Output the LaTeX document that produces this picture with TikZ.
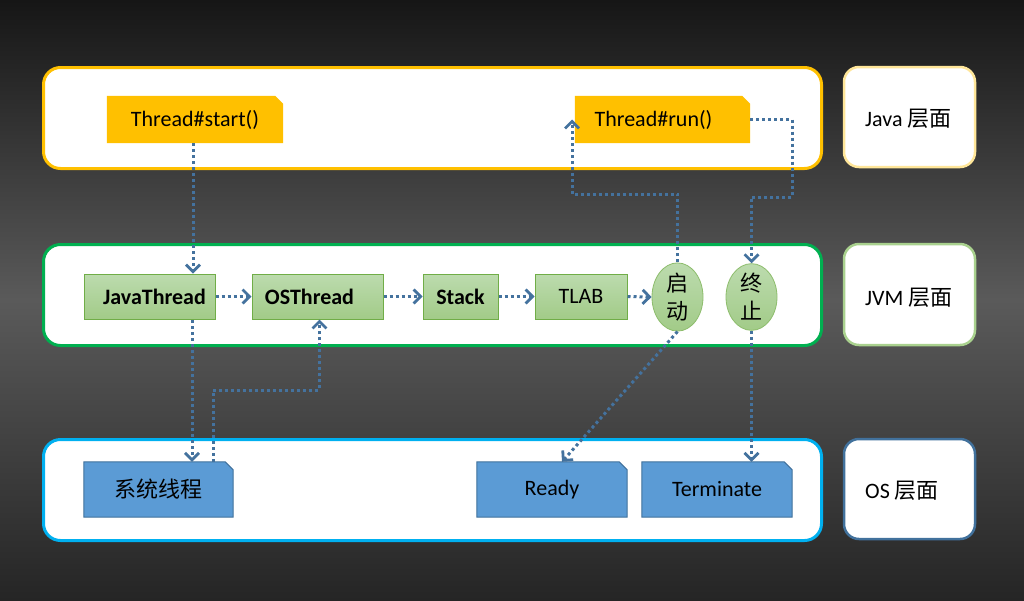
\documentclass[tikz,border=0pt]{standalone}
\usepackage{fontspec}
\setmainfont{Carlito}
\newfontfamily\cjk{Noto Sans CJK SC}
\usetikzlibrary{arrows.meta,shapes.geometric}
\pgfdeclarelayer{back}
\pgfdeclarelayer{bg}
\pgfsetlayers{back,bg,main}
\definecolor{bgtop}{HTML}{161616}
\definecolor{bgmid}{HTML}{5A5A5A}
\definecolor{bgbot}{HTML}{252525}
\definecolor{jyellow}{HTML}{FFC000}
\definecolor{jgreen}{HTML}{00B050}
\definecolor{jcyan}{HTML}{00B0F0}
\definecolor{lyellow}{HTML}{FFE699}
\definecolor{lgreen}{HTML}{A9D18E}
\definecolor{lblue}{HTML}{41719C}
\definecolor{gtop}{HTML}{BCDBAE}
\definecolor{gbot}{HTML}{A2CB88}
\definecolor{gborder}{HTML}{70AD47}
\definecolor{bfill}{HTML}{5B9BD5}
\definecolor{bborder}{HTML}{41719C}
\definecolor{conncol}{HTML}{44729E}
\newcommand\snipfill[2]{%
  \begin{pgfonlayer}{bg}
    \path[#2] (#1.south west) -- (#1.north west) -- ([xshift=-8pt]#1.north east)
      -- ([yshift=-8pt]#1.north east) -- (#1.south east) -- cycle;
  \end{pgfonlayer}}
\begin{document}
\begin{tikzpicture}[x=1pt,y=-1pt,
  layerbox/.style={draw, line width=3pt, rounded corners=17pt, fill=white},
  labelbox/.style={draw, line width=2.5pt, rounded corners=15pt, fill=white},
  labeltxt/.style={anchor=west, inner sep=0pt, font=\fontsize{22}{26}\selectfont},
  snipnode/.style={rectangle, inner sep=0pt, font=\fontsize{22}{26}\selectfont},
  gbox/.style={rectangle, inner sep=0pt, draw=gborder, line width=1pt, top color=gtop, bottom color=gbot, minimum height=45pt, font=\fontsize{22}{26}\selectfont},
  gell/.style={ellipse, inner sep=0pt, draw=gborder!80, line width=0.8pt, top color=gtop, bottom color=gbot, minimum width=51pt, minimum height=63pt, align=center, font=\cjk\fontsize{22}{28}\selectfont},
  conn/.style={draw=conncol, line width=3pt, dash pattern=on 3pt off 3pt,
    -{Straight Barb[length=7pt,width=14pt,line width=2.8pt]}}
]
\useasboundingbox (0,0) rectangle (1024,600);
\begin{pgfonlayer}{back}
\shade[top color=bgtop, bottom color=bgbot, middle color=bgmid] (0,0) rectangle (1024,600);
% layers
\path[layerbox, draw=jyellow] (43.5,67.5) rectangle (821.5,168.5);
\path[layerbox, draw=jgreen] (43.5,244.5) rectangle (821.5,345.5);
\path[layerbox, draw=jcyan] (43.5,439.5) rectangle (821.5,540.5);
% label boxes
\path[labelbox, draw=lyellow] (844,67) rectangle (975,167);
\path[labelbox, draw=lgreen] (844,244) rectangle (975,345);
\path[labelbox, draw=lblue] (844,439) rectangle (975,539);
\end{pgfonlayer}
\node[labeltxt] (ljava) at (865,119) {Java {\cjk 层面}};
\node[labeltxt] (ljvm) at (865,298) {JVM {\cjk 层面}};
\node[labeltxt] (los) at (865,491) {OS {\cjk 层面}};

% Java layer
\node[snipnode, minimum width=176pt, minimum height=47pt] (start) at (195,119.5) {Thread\#start()};
\snipfill{start}{fill=jyellow}
\node[snipnode, minimum width=175pt, minimum height=47pt] (run) at (662.5,119.5) {\hspace*{-18pt}Thread\#run()};
\snipfill{run}{fill=jyellow}

% JVM layer
\node[gbox, minimum width=131pt] (jt) at (149.5,296.5) {\bfseries\hspace*{10pt}JavaThread};
\node[gbox, minimum width=131pt] (ost) at (317.5,296.5) {\bfseries\hspace*{-16pt}OSThread};
\node[gbox, minimum width=75pt] (stk) at (460.5,296.5) {\bfseries Stack};
\node[gbox, minimum width=92pt] (tlab) at (581,296.5) {TLAB};
\node[gell] (q) at (677.5,297) {启\\动};
\node[gell] (z) at (751.5,297) {终\\止};

% OS layer
\node[snipnode, minimum width=149pt, minimum height=55pt, font=\cjk\fontsize{22}{26}\selectfont] (sys) at (158.5,489.5) {系统线程};
\snipfill{sys}{fill=bfill, draw=bborder, line width=1pt}
\node[snipnode, minimum width=150pt, minimum height=55pt] (ready) at (552,489.5) {Ready};
\snipfill{ready}{fill=bfill, draw=bborder, line width=1pt}
\node[snipnode, minimum width=150pt, minimum height=55pt] (ter) at (717,489.5) {Terminate};
\snipfill{ter}{fill=bfill, draw=bborder, line width=1pt}

% connectors
\coordinate (c1) at (572,194);
\coordinate (c2) at (792,197);
\coordinate (c3) at (213,390);
\coordinate (jtdown) at (192,320);
\draw[conn] ([xshift=-2pt]start.south) -- ([xshift=-2pt]start.south |- jt.north);
\draw[conn] (jt.east) -- (ost.west);
\draw[conn] (ost.east) -- (stk.west);
\draw[conn] (stk.east) -- (tlab.west);
\draw[conn] (tlab.east) -- (q.west);
\draw[conn] (q.north) |- (c1) -- (c1 |- run.west);
\draw[conn] (run.east) -| (c2) -| (z.north);
\draw[conn] (jtdown) -- (jtdown |- sys.north);
\draw[conn] (c3 |- sys.north) -- (c3) -| ([xshift=2pt]ost.south);
\draw[conn] (q.south) -- ([xshift=10pt]ready.north);
\draw[conn] (z.south) -- (z.south |- ter.north);
\end{tikzpicture}
\end{document}
